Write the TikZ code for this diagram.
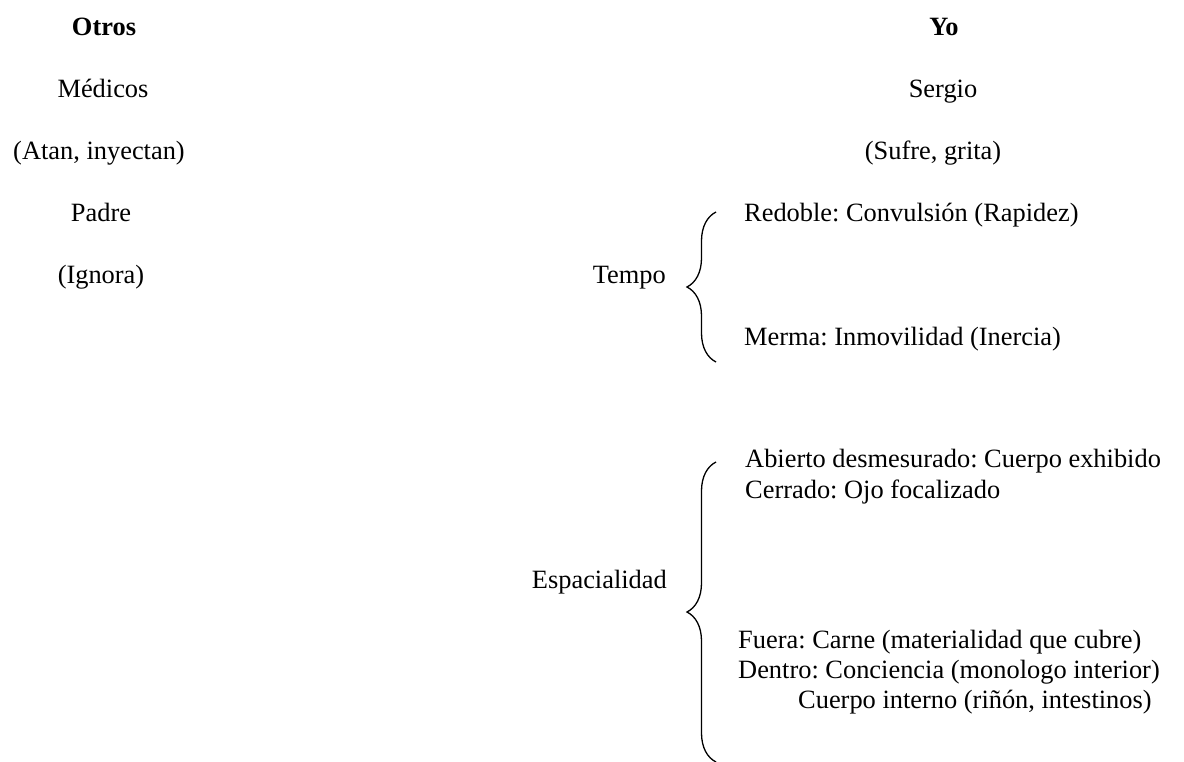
\documentclass[tikz,border=0pt]{standalone}
\usepackage{fontspec}
\setmainfont{Liberation Serif}
\newfontfamily\timesfont{Liberation Serif}
\usetikzlibrary{decorations.pathreplacing}
\frenchspacing

\begin{document}
\begin{tikzpicture}[x=1pt,y=-1pt,inner sep=0pt,
      font=\timesfont\fontsize{26.4}{31}\selectfont,
      txt/.style={anchor=base},
      lft/.style={anchor=base west},
      rgt/.style={anchor=base east},
      head/.style={anchor=base,font=\timesfont\fontsize{26.4}{31}\selectfont\bfseries},
      curly/.style={decorate,decoration={brace,amplitude=29pt},line width=1.3pt}]

   \useasboundingbox (0,0) rectangle (1184,761);

   % Otros
      \node[head]  (otros)   at (104,35)  {Otros};
      \node[txt]   (medicos) at (103,97)  {Médicos};
      \node[txt]   (atan)    at (99,159)  {(Atan, inyectan)};
      \node[txt]   (padre)   at (101,221) {Padre};
      \node[txt]   (ignora)  at (101,283) {(Ignora)};

   % Yo
      \node[head]  (yo)      at (944,35)  {Yo};
      \node[txt]   (sergio)  at (943,97)  {Sergio};
      \node[txt]   (sufre)   at (933,159) {(Sufre, grita)};

   % Tempo
      \node[rgt]   (tempo)   at (666,283) {Tempo};
      \node[lft]   (redoble) at (744,221) {Redoble: Convulsión (Rapidez)};
      \node[lft]   (merma)   at (744,345) {Merma: Inmovilidad (Inercia)};

   % Espacialidad
      \node[rgt]   (espacio) at (667,588) {Espacialidad};
      \node[lft]   (abierto) at (745,467) {Abierto desmesurado: Cuerpo exhibido};
      \node[lft]   (cerrado) at (745,498) {Cerrado: Ojo focalizado};
      \node[lft]   (fuera)   at (738,648) {Fuera: Carne (materialidad que cubre)};
      \node[lft]   (dentro)  at (738,678) {Dentro: Conciencia (monologo interior)};
      \node[lft]   (interno) at (798,708) {Cuerpo interno (riñón, intestinos)};

   % Braces
      \coordinate (tempo top) at (716,212);
      \coordinate (tempo bot) at (716,362);
      \coordinate (esp top)   at (716,462);
      \coordinate (esp bot)   at (716,762);
      \draw[curly] (tempo bot) -- (tempo top);
      \draw[curly] (esp bot) -- (esp top);
\end{tikzpicture}
\end{document}
